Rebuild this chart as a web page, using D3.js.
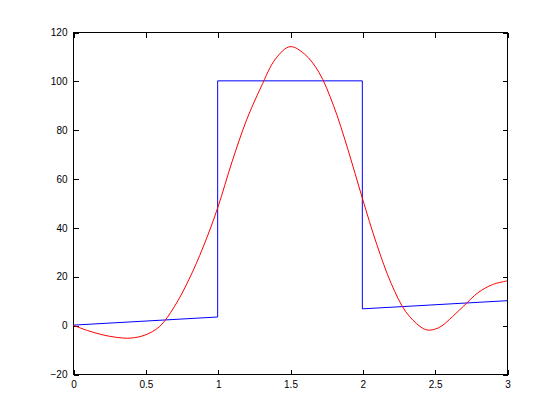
<!DOCTYPE html>
<html>
<head>
<meta charset="utf-8">
<script src="https://cdn.jsdelivr.net/npm/d3@7"></script>
<style>
  body { margin: 0; background: #fff; }
  text { font-family: "Liberation Sans", Arial, sans-serif; font-size: 10px; fill: #000; }
</style>
</head>
<body>
<svg id="chart" width="560" height="420"></svg>
<script>
// blue: ramp plus a square pulse on [1,2]
const blueX = [0, 1, 1, 2, 2, 3];
const blueY = [0, 3.33, 100, 100, 6.67, 10];

// red: smooth approximation
const redX = [0, 0.1, 0.2, 0.3, 0.4, 0.5, 0.6, 0.7, 0.8, 0.9, 1.0, 1.1, 1.2, 1.3, 1.4, 1.5,
              1.6, 1.7, 1.8, 1.9, 2.0, 2.1, 2.2, 2.3, 2.4, 2.45, 2.5, 2.55, 2.6, 2.7, 2.8, 2.9, 3.0];
const redY = [0, -2.2, -3.9, -5.0, -5.3, -4.0, -0.5, 7.5, 18.5, 32, 48, 67, 84, 97.5, 109, 114,
              111, 103.5, 90, 72, 52, 33, 17, 5.5, -0.6, -2.0, -1.7, -0.3, 2.2, 7.8, 13.3, 16.6, 18.1];

const xTicks = [0, 0.5, 1, 1.5, 2, 2.5, 3];
const yTicks = [-20, 0, 20, 40, 60, 80, 100, 120];

const svg = d3.select("#chart");
const plotL = 73, plotR = 507, plotT = 32, plotB = 374;

const x = d3.scaleLinear().domain([0, 3]).range([plotL, plotR]);
const y = d3.scaleLinear().domain([-20, 120]).range([plotB, plotT]);

const tickLen = 5;

// frame
svg.append("rect")
    .attr("x", plotL + 0.5).attr("y", plotT + 0.5)
    .attr("width", plotR - plotL).attr("height", plotB - plotT)
    .attr("fill", "none").attr("stroke", "#000").attr("stroke-width", 1)
    .attr("shape-rendering", "crispEdges");

// axes with inward ticks
const xAxis = d3.axisBottom(x).tickValues(xTicks).tickSize(-tickLen).tickPadding(6)
    .tickFormat(d3.format("~g"));
svg.append("g").attr("transform", `translate(0.5,${plotB + 0.5})`).call(xAxis);

const yAxis = d3.axisLeft(y).tickValues(yTicks).tickSize(-tickLen).tickPadding(6)
    .tickFormat(d3.format("~g"));
svg.append("g").attr("transform", `translate(${plotL + 0.5},0.5)`).call(yAxis);

// mirror ticks on top and right
svg.append("g").attr("transform", `translate(0.5,${plotT + 0.5})`)
    .call(d3.axisTop(x).tickValues(xTicks).tickSize(-tickLen).tickFormat(""));
svg.append("g").attr("transform", `translate(${plotR + 0.5},0.5)`)
    .call(d3.axisRight(y).tickValues(yTicks).tickSize(-tickLen).tickFormat(""));

svg.selectAll(".domain").remove();
svg.selectAll(".tick line").attr("stroke", "#000").attr("shape-rendering", "crispEdges");
svg.selectAll(".tick text").style("font-family", "Liberation Sans, Arial, sans-serif").style("font-size", "10px");

const line = d3.line().x(d => x(d[0])).y(d => y(d[1]));

svg.append("path")
    .datum(blueX.map((v, i) => [v, blueY[i]]))
    .attr("d", line)
    .attr("fill", "none").attr("stroke", "#0000ff").attr("stroke-width", 1);

svg.append("path")
    .datum(redX.map((v, i) => [v, redY[i]]))
    .attr("d", line.curve(d3.curveCatmullRom))
    .attr("fill", "none").attr("stroke", "#ff0000").attr("stroke-width", 1);
</script>
</body>
</html>
